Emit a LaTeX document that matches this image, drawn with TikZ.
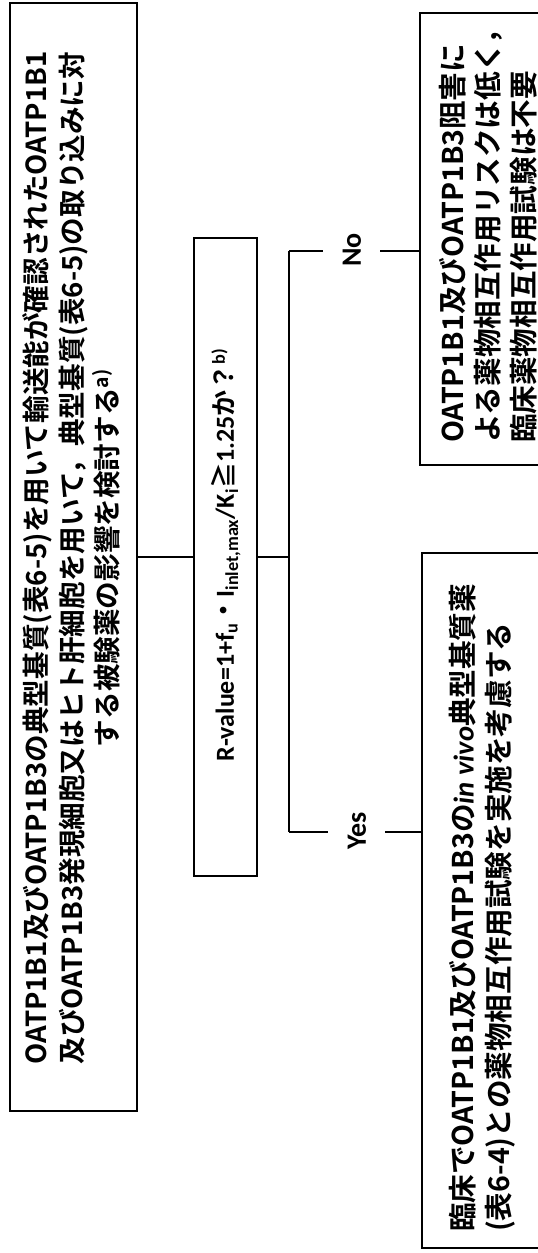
\documentclass[tikz,border=0pt]{standalone}
\usepackage{fontspec}
\setmainfont{Carlito}
\newfontfamily\jp{Noto Sans CJK JP}[BoldFont={Noto Sans CJK JP Bold}]
\begin{document}
\begin{tikzpicture}[x=1pt,y=-1pt,
  box/.style={draw, line width=2.2pt, inner sep=0pt},
  conn/.style={line width=2pt},
  jtext/.style={rotate=90, inner sep=0pt, font=\fontsize{27.6}{35.5}\selectfont\jp\bfseries},
  jtextb/.style={rotate=90, inner sep=0pt, font=\fontsize{28.6}{35.5}\selectfont\jp\bfseries},
  rtext/.style={rotate=90, inner sep=0pt, font=\fontsize{26}{28}\selectfont\bfseries},
  lbl/.style={rotate=90, inner sep=0pt, font=\fontsize{28}{30}\selectfont\bfseries}]
\useasboundingbox (0,0) rectangle (538,1253);
\fill[white] (0,0) rectangle (538,1253);
% boxes
\node[box, minimum width=127, minimum height=1108] (main) at (73.5,557) {};
\node[box, minimum width=63, minimum height=638] (rbox) at (225.5,557) {};
\node[box, minimum width=128, minimum height=452] (nobox) at (484,239) {};
\node[box, minimum width=128, minimum height=695] (yesbox) at (486,900.5) {};
% texts
\node[jtext, align=center] (maintext) at (71.5,558)
  {OATP1B1及びOATP1B3の典型基質(表6-5)を用いて輸送能が確認されたOATP1B1\\
   及びOATP1B3発現細胞又はヒト肝細胞を用いて，典型基質(表6-5)の取り込みに対\\
   する被験薬の影響を検討する\textsuperscript{a)}};
\node[rtext] (rtext) at (226,555)
  {R-value=1+f\textsubscript{u}{\jp・}I\textsubscript{inlet,max}/K\textsubscript{i}{\jp ≧}1.25{\jp か？}\textsuperscript{b)}};
\node[jtextb, align=left, anchor=west] (notext) at (488,443)
  {OATP1B1及びOATP1B3阻害に\\
   よる薬物相互作用リスクは低く，\\
   臨床薬物相互作用試験は不要};
\node[jtextb, align=left, anchor=west] (yestext) at (482,1232)
  {臨床でOATP1B1及びOATP1B3の{\rmfamily\bfseries\itshape in vivo}典型基質薬\\
   (表6-4)との薬物相互作用試験を実施を考慮する};
\node[lbl] (nolbl) at (352,250) {No};
\node[lbl] (yeslbl) at (357,831) {Yes};
% connectors
\coordinate (split) at (289,557);
\coordinate (noj) at (289,251);
\coordinate (yesj) at (289,832);
\coordinate (noa) at (323,251);
\coordinate (nob) at (380,251);
\coordinate (yesa) at (328,832);
\coordinate (yesb) at (385,832);
\draw[conn] (main.east) -- (rbox.west);
\draw[conn] (rbox.east) -- (split);
\draw[conn] (noj) -- (yesj);
\draw[conn] (noj) -- (noa);
\draw[conn] (nob) -- (nob -| nobox.west);
\draw[conn] (yesj) -- (yesa);
\draw[conn] (yesb) -- (yesb -| yesbox.west);
\end{tikzpicture}
\end{document}
